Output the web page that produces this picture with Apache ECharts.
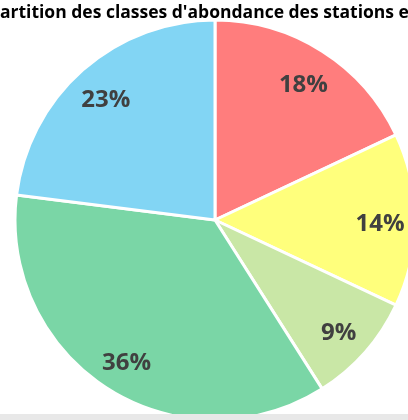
<!DOCTYPE html>
<html>
<head>
<meta charset="utf-8">
<script src="https://cdn.jsdelivr.net/npm/echarts@6/dist/echarts.min.js"></script>
<style>
  html, body { margin: 0; padding: 0; background: #fff; }
  #main { width: 408px; height: 414px; }
  .foot { width: 408px; height: 6px; background: #e8e8e8; }
</style>
</head>
<body>
<div id="main"></div>
<div class="foot"></div>
<script>
// classes d'abondance, dans l'ordre horaire depuis midi
const classes = ['Classe 1', 'Classe 2', 'Classe 3', 'Classe 4', 'Classe 5'];
const parts = [18, 14, 9, 36, 23];
const colors = ['#ff7d7d', '#ffff7c', '#c9e7a6', '#7ad6a6', '#82d5f4'];

const data = classes.map((c, i) => ({ name: c, value: parts[i] }));

const chart = echarts.init(document.getElementById('main'));
chart.setOption({
  animation: false,
  title: {
    text: "Répartition des classes d'abondance des stations e",
    left: -38,
    top: -1,
    textStyle: { fontFamily: 'Open Sans', fontWeight: 'bold', fontSize: 17.5, color: '#000' }
  },
  color: colors,
  series: [
    {
      type: 'pie',
      center: [215, 220],
      radius: [0, 200],
      startAngle: 90,
      clockwise: true,
      data: data,
      label: { show: false },
      labelLine: { show: false },
      itemStyle: { borderColor: '#fff', borderWidth: 3 }
    },
    {
      // anneau invisible qui porte seulement les étiquettes (à ~80% du rayon)
      type: 'pie',
      center: [215, 220],
      radius: [124, 200],
      startAngle: 90,
      clockwise: true,
      silent: true,
      data: data,
      itemStyle: { color: 'rgba(0,0,0,0)' },
      label: {
        show: true,
        position: 'inside',
        formatter: p => p.value + '%',
        fontFamily: 'Open Sans',
        fontWeight: 'bold',
        fontSize: 24,
        color: '#404040'
      },
      labelLayout: { dy: 4 },
      labelLine: { show: false }
    }
  ]
});
</script>
</body>
</html>
